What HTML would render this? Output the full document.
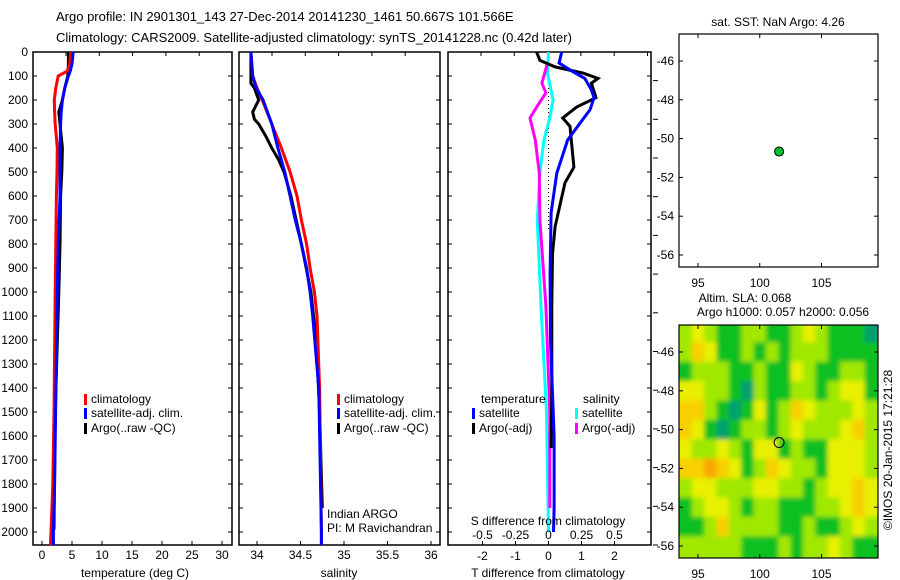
<!DOCTYPE html>
<html><head><meta charset="utf-8"><style>
body{margin:0;background:#fff}
svg{display:block;font-family:"Liberation Sans",sans-serif}
text{font-size:12px;fill:#000}
</style></head><body>
<svg id="c" width="900" height="580" viewBox="0 0 900 580" xmlns="http://www.w3.org/2000/svg">
<defs><filter id="blur" x="-10%" y="-10%" width="120%" height="120%"><feGaussianBlur stdDeviation="2.5" edgeMode="duplicate"/></filter></defs>
<text x="56" y="21" style="font-size:13px">Argo profile: IN 2901301_143 27-Dec-2014 20141230_1461 50.667S 101.566E</text>
<text x="56" y="42" style="font-size:13px">Climatology: CARS2009. Satellite-adjusted climatology: synTS_20141228.nc (0.42d later)</text>
<g id="g"></g>
</svg>
<script>
// ---- depth profile data (depth in dbar) ----
const tDepth = [0,50,80,100,150,200,250,300,400,500,600,800,1000,1500,1800,2000,2054];
const tClim  = [4.8,4.6,4.2,2.7,2.3,2.05,2.1,2.2,2.55,2.5,2.4,2.3,2.2,2.0,1.8,1.5,1.4];
const tSat   = [5.2,5.0,4.7,4.4,3.8,3.4,3.2,3.1,3.0,3.0,3.0,2.7,2.55,2.27,2.1,1.9,1.9];
const tArgoDepth = [0,50,100,150,200,250,300,400,500,600,800,1000,1500,1990];
const tArgo  = [4.4,4.4,4.3,3.8,3.4,2.8,3.0,3.4,3.3,3.1,3.0,2.8,2.2,2.0];
const sDepth = [0,100,150,200,300,400,500,600,700,800,900,1000,1100,1400,2000,2054];
const sClim  = [33.93,33.95,34.0,34.06,34.17,34.28,34.38,34.46,34.51,34.57,34.61,34.66,34.69,34.72,34.74,34.74];
const sSat   = [33.93,33.95,33.99,34.07,34.17,34.24,34.32,34.38,34.44,34.51,34.57,34.61,34.64,34.71,34.74,34.74];
const sArgoDepth = [0,130,150,200,250,280,300,350,400,450,500,600,800,1000,1200,1500,1900];
const sArgo  = [33.93,33.93,33.97,34.02,33.95,33.97,34.02,34.1,34.17,34.25,34.31,34.39,34.51,34.62,34.68,34.72,34.75];
// differences
const dTSatDepth = [0,46,83,110,158,190,240,297,367,505,670,920,1200,1600,1900,2000];
const dTSat = [0.4,0.32,0.75,1.1,1.3,1.38,1.26,0.95,0.58,0.25,0.08,0.05,0.06,0.17,0.17,0.15];
const dTArgoDepth = [0,35,62,88,110,130,190,230,275,310,480,545,728,840,1060,1400,1650];
const dTArgo = [-0.36,-0.26,0.2,1.05,1.5,1.3,1.44,0.85,0.43,0.65,0.77,0.5,0.2,0.12,0.1,0.1,0.08];
const dSSatDepth = [0,88,200,275,367,505,700,1060,1500,2000];
const dSSat = [0,-0.008,0.035,0.01,-0.035,-0.065,-0.085,-0.057,-0.015,0.0];
const dSArgoDepth = [50,130,170,230,275,367,505,700,1060,1500,1900];
const dSArgo = [-0.01,-0.05,-0.02,-0.09,-0.14,-0.1,-0.07,-0.065,-0.02,0.01,0.01];
// tick labels
const depthTicks = [0,100,200,300,400,500,600,700,800,900,1000,1100,1200,1300,1400,1500,1600,1700,1800,1900,2000];
const tempTicks = [0,5,10,15,20,25,30];
const salTicks = [34,34.5,35,35.5,36];
const salTickLabels = ["34","34.5","35","35.5","36"];
const dTTicks = [-2,-1,0,1,2];
const dSTicks = [-0.5,-0.25,0,0.25,0.5];
const latTicks = [-46,-48,-50,-52,-54,-56];
const lonTicks = [95,100,105];
const argoLon = 101.566, argoLat = -50.667;
// SLA heatmap levels (rows lat -45..-56, cols lon 94..109)
const slaLats = [-45,-46,-47,-48,-49,-50,-51,-52,-53,-54,-55,-56];
const slaLons = [94,95,96,97,98,99,100,101,102,103,104,105,106,107,108,109];
const slaGrid = [
[2,3,2,1,1,2,2,1,1,2,3,2,1,1,1,0],
[2,4,3,1,1,2,1,2,1,2,2,2,1,1,1,1],
[1,2,2,2,1,1,2,1,1,3,2,1,1,2,2,1],
[3,3,2,2,1,0,2,1,1,2,2,1,2,3,3,1],
[4,4,2,1,0,1,3,1,2,4,3,2,2,2,3,2],
[4,3,1,0,1,2,2,1,2,3,2,2,2,3,4,2],
[3,2,2,3,2,1,3,3,1,2,1,1,3,3,3,2],
[4,4,5,4,3,1,2,4,3,2,2,1,3,3,3,2],
[2,3,3,2,2,2,3,3,2,2,1,2,3,3,4,3],
[1,2,3,3,2,1,2,2,1,1,1,2,2,3,4,3],
[1,1,2,4,2,2,2,2,1,1,2,1,1,2,3,2],
[2,2,2,2,2,1,1,1,2,1,2,2,3,2,1,1]];

const NS="http://www.w3.org/2000/svg";
const G=document.getElementById('g');
function el(tag,attrs,parent){const e=document.createElementNS(NS,tag);for(const k in attrs)e.setAttribute(k,attrs[k]);(parent||G).appendChild(e);return e;}
function txt(x,y,s,anchor,parent,size){const t=el('text',{x:x,y:y,'text-anchor':anchor||'start'},parent);if(size)t.style.fontSize=size+'px';t.textContent=s;return t;}
const yD = d => 52 + 0.24*d;
const xT = v => 42 + 6*v;
const xS = v => 257 + 87*(v-34);
const xDT = v => 548.5 + 33*v;
const xDS = v => 548.5 + 132*v;
const PB = 545;

function frame(x0,x1,name){
  const r=el('rect',{x:x0,y:52,width:x1-x0,height:PB-52,fill:'none',stroke:'#000','stroke-width':1.5});
  
  
  depthTicks.forEach(d=>{el('line',{x1:x0,x2:x0+4,y1:yD(d),y2:yD(d),stroke:'#000'});el('line',{x1:x1-4,x2:x1,y1:yD(d),y2:yD(d),stroke:'#000'});});
  for(let x=x0+33;x<x1-2;x+=33.3) el('line',{x1:x,x2:x,y1:52,y2:56,stroke:'#000'});
}
function line(xs,ds,fx,color,name,w){
  const pts=xs.map((v,i)=>fx(v).toFixed(1)+','+yD(ds[i]).toFixed(1)).join(' ');
  const p=el('polyline',{points:pts,fill:'none',stroke:color,'stroke-width':w||3,'stroke-linejoin':'miter'});
  
  
}
function legendEntry(x,y,color,label,name){
  const g=el('g',{});
  
  
  el('rect',{x:x,y:y-9,width:3,height:11,fill:color},g);
  txt(x+7,y,label,'start',g);
}

depthTicks.forEach(d=>{txt(28,yD(d)+4,String(d),'end');});

// panel 1
frame(33,232,'temperature-panel');
line(tArgo,tArgoDepth,xT,'#000','argo-temperature-line');
line(tClim,tDepth,xT,'#f00','climatology-temperature-line');
line(tSat,tDepth,xT,'#00f','satellite-temperature-line');
tempTicks.forEach(v=>{el('line',{x1:xT(v),x2:xT(v),y1:PB,y2:PB-4,stroke:'#000'});txt(xT(v),559,String(v),'middle');});
txt(135,577,'temperature (deg C)','middle');
legendEntry(84,403,'#f00','climatology','legend-climatology-temp');
legendEntry(84,417,'#00f','satellite-adj. clim.','legend-satellite-temp');
legendEntry(84,432,'#000','Argo(..raw -QC)','legend-argo-temp');

// panel 2
frame(239,440,'salinity-panel');
line(sArgo,sArgoDepth,xS,'#000','argo-salinity-line');
line(sClim,sDepth,xS,'#f00','climatology-salinity-line');
line(sSat,sDepth,xS,'#00f','satellite-salinity-line');
salTicks.forEach((v,i)=>{el('line',{x1:xS(v),x2:xS(v),y1:PB,y2:PB-4,stroke:'#000'});txt(xS(v),559,salTickLabels[i],'middle');});
txt(339,577,'salinity','middle');
legendEntry(337,403,'#f00','climatology','legend-climatology-sal');
legendEntry(337,417,'#00f','satellite-adj. clim.','legend-satellite-sal');
legendEntry(337,432,'#000','Argo(..raw -QC)','legend-argo-sal');
txt(327,518,'Indian ARGO');
txt(327,532,'PI: M Ravichandran');

// panel 3
frame(448,651,'difference-panel');
el('line',{x1:548.5,x2:548.5,y1:yD(150),y2:yD(750),stroke:'#000','stroke-dasharray':'1,3'});
line(dSSat,dSSatDepth,xDS,'#0ff','satellite-salinity-diff-line');
line(dSArgo,dSArgoDepth,xDS,'#f0f','argo-salinity-diff-line');
line(dTArgo,dTArgoDepth,xDT,'#000','argo-temperature-diff-line');
line(dTSat,dTSatDepth,xDT,'#00f','satellite-temperature-diff-line');
dTTicks.forEach(v=>{el('line',{x1:xDT(v),x2:xDT(v),y1:PB,y2:PB-4,stroke:'#000'});txt(xDT(v),560,String(v),'middle');});
dSTicks.forEach(v=>{txt(xDS(v),539,String(v),'middle');});
txt(548,525,'S difference from climatology','middle');
txt(548,577,'T difference from climatology','middle');
txt(481,403,'temperature');
txt(583,403,'salinity');
legendEntry(472,417,'#00f','satellite','legend-satellite-tdiff');
legendEntry(472,432,'#000','Argo(-adj)','legend-argo-tdiff');
legendEntry(575,417,'#0ff','satellite','legend-satellite-sdiff');
legendEntry(575,432,'#f0f','Argo(-adj)','legend-argo-sdiff');
for(let y=545;y>55;y-=38.7) el('line',{x1:653,x2:658,y1:y,y2:y,stroke:'#000'});

// maps
const xLon = v => 698 + 12.35*(v-95);
function map(top,lat46,name){
  const yLat = v => lat46 + 19.4*(-46 - v);
  const r=el('rect',{x:679,y:top,width:199,height:233,fill:'none',stroke:'#000','stroke-width':1.2});
  
  
  latTicks.forEach(v=>{el('line',{x1:679,x2:683,y1:yLat(v),y2:yLat(v),stroke:'#000'});el('line',{x1:874,x2:878,y1:yLat(v),y2:yLat(v),stroke:'#000'});txt(674,yLat(v)+4,String(v),'end');});
  lonTicks.forEach(v=>{el('line',{x1:xLon(v),x2:xLon(v),y1:top+233,y2:top+229,stroke:'#000'});el('line',{x1:xLon(v),x2:xLon(v),y1:top,y2:top+4,stroke:'#000'});txt(xLon(v),top+253,String(v),'middle');});
  return yLat;
}
txt(778,26,'sat. SST: NaN Argo: 4.26','middle');
const yL1=map(34,61,'sst-map');
const dot=el('circle',{cx:xLon(argoLon),cy:yL1(argoLat),r:4.5,fill:'#00c030',stroke:'#000','stroke-width':1});


txt(745,302,'Altim. SLA: 0.068','middle');
txt(783,316,'Argo h1000: 0.057 h2000: 0.056','middle');
// SLA heatmap
const palette=['#00a070','#10c020','#a0e800','#e8f000','#f8d000','#f8a800'];
const cp=el('clipPath',{id:'clp'});el('rect',{x:679,y:325,width:199,height:233},cp);
const hmOuter=el('g',{'clip-path':'url(#clp)'});
const hm=el('g',{filter:'url(#blur)'},hmOuter);


const yL2 = v => 352 + 19.4*(-46 - v);
slaGrid.forEach((row,i)=>row.forEach((v,j)=>{
  let x=xLon(slaLons[j]-0.5), y=yL2(slaLats[i]+0.5), w=12.9, h=20;
  if(j===0){x-=15;w+=15;} if(j===row.length-1){w+=15;}
  if(i===0){y-=15;h+=15;} if(i===slaGrid.length-1){h+=15;}
  const c=el('rect',{x:x,y:y,width:w,height:h,fill:palette[v]},hm);
  
  
}));
map(325,352,'sla-map');
el('circle',{cx:xLon(argoLon),cy:yL2(argoLat),r:5,fill:'none',stroke:'#000','stroke-width':1});
const cr=txt(0,0,'©IMOS 20-Jan-2015 17:21:28','middle');
cr.setAttribute('transform','translate(892,450) rotate(-90)');
</script>
</body></html>
